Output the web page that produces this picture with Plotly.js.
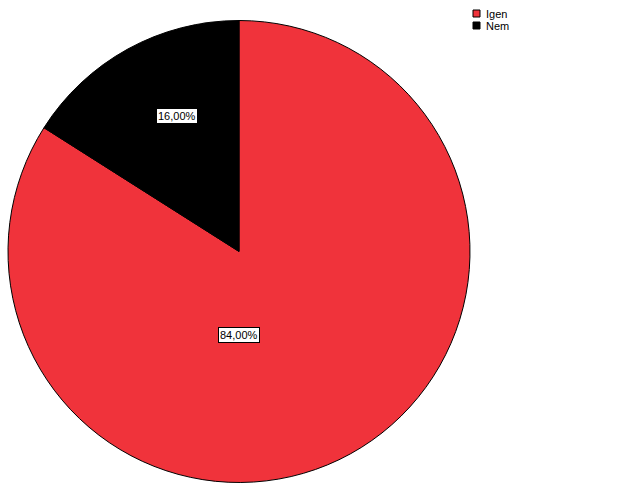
<!DOCTYPE html>
<html>
<head>
<meta charset="utf-8">
<script src="https://cdn.plot.ly/plotly-3.0.1.min.js"></script>
<style>
  html, body { margin: 0; padding: 0; background: #fff; }
  #chart { width: 629px; height: 504px; }
</style>
</head>
<body>
<div id="chart"></div>
<script>
// ---- data ----
const categories = ["Igen", "Nem"];
const percents = [84, 16];
const sliceColors = ["#f0333b", "#000000"];

// label boxes (paper coords), one per category
const labelX = [239 / 629, 177 / 629];
const labelY = [1 - 335 / 504, 1 - 116 / 504];

const W = 629, H = 504;
const fmt = v => v.toFixed(2).replace(".", ",") + "%";

const trace = {
    type: "pie",
    labels: categories,
    values: percents,
    sort: false,
    direction: "clockwise",
    rotation: 0,
    textinfo: "none",
    hoverinfo: "label+percent",
    marker: { colors: sliceColors, line: { color: "#000", width: 1 } },
    domain: { x: [8 / W, 470 / W], y: [1 - 483 / H, 1 - 20 / H] }
};

// slice labels in white boxes
const annotations = categories.map((c, i) => ({
    xref: "paper", yref: "paper",
    x: labelX[i], y: labelY[i],
    xanchor: "center", yanchor: "middle",
    text: fmt(percents[i]),
    showarrow: false,
    bgcolor: "#fff",
    bordercolor: "#000",
    borderwidth: 1,
    borderpad: 1,
    font: { family: "Liberation Sans, Arial, sans-serif", size: 11, color: "#000" }
}));

// hand-drawn legend (small squares like the original)
const shapes = [];
categories.forEach((c, i) => {
    const top = 10 + i * 12;
    shapes.push({
        type: "rect", xref: "paper", yref: "paper",
        x0: 473 / W, x1: 480 / W,
        y0: 1 - (top + 7) / H, y1: 1 - top / H,
        fillcolor: sliceColors[i],
        line: { color: "#000", width: 1 }
    });
    annotations.push({
        xref: "paper", yref: "paper",
        x: 484 / W, y: 1 - (top + 3.5) / H,
        xanchor: "left", yanchor: "middle",
        text: c, showarrow: false,
        font: { family: "Liberation Sans, Arial, sans-serif", size: 11, color: "#000" }
    });
});

const layout = {
    width: W, height: H,
    margin: { l: 0, r: 0, t: 0, b: 0 },
    paper_bgcolor: "#fff",
    showlegend: false,
    annotations,
    shapes
};

Plotly.newPlot("chart", [trace], layout, { displayModeBar: false, staticPlot: true });
</script>
</body>
</html>
